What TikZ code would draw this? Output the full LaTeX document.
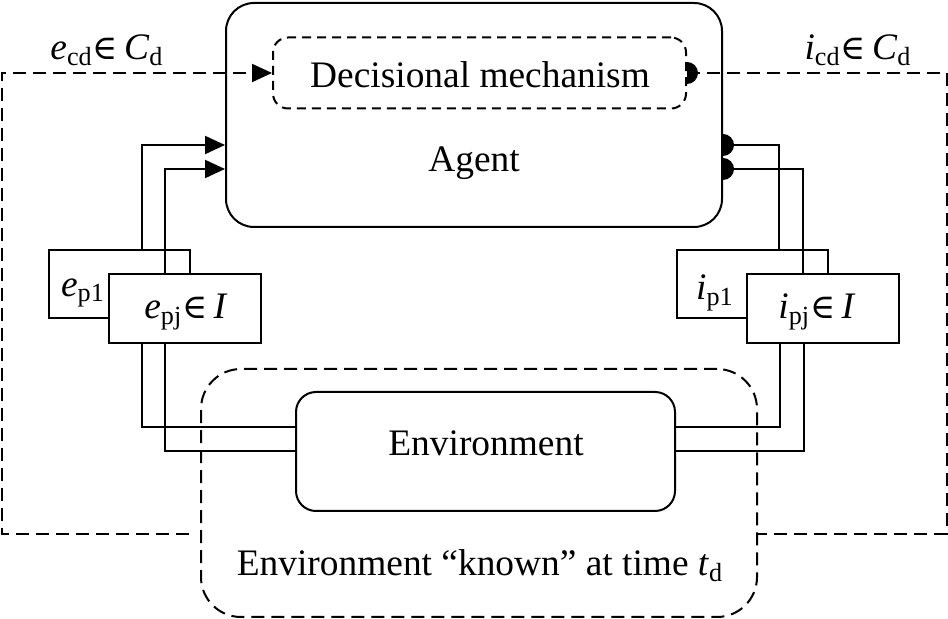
\documentclass[tikz,border=0pt]{standalone}
\usepackage{fontspec}
\setmainfont{Liberation Serif}
\newfontfamily\symfnt{DejaVu Serif}
\usetikzlibrary{arrows.meta,calc}
\newcommand\sbs[1]{\textsubscript{#1}}
\newcommand\elemof{{\symfnt\fontsize{17}{20}\selectfont ∈}}
\begin{document}
\begin{tikzpicture}[x=0.5pt,y=-0.5pt,line width=1pt,
  box/.style={draw,line width=1pt,inner sep=0pt,fill=white},
  txt/.style={inner sep=0pt,font=\fontsize{18.7}{22}\selectfont},
  longdash/.style={dash pattern=on 6.5pt off 3.5pt},
  tri/.style={-{Triangle[length=10pt,width=9pt]}},
  halfdisk/.style={fill=black}]
\useasboundingbox (0,0) rectangle (948,619);
% big boxes
\node[draw,longdash,inner sep=0pt,rounded corners=20pt,minimum width=278pt,minimum height=124pt] (known) at (479,493) {};
\node[box,rounded corners=10pt,minimum width=189.5pt,minimum height=59.5pt] (env) at (485.5,451.5) {};
\node[box,rounded corners=14pt,minimum width=248pt,minimum height=112pt] (agent) at (474,115) {};
\node[box,dash pattern=on 4.5pt off 3pt,rounded corners=7.5pt,minimum width=206.5pt,minimum height=35.5pt] (dm) at (479.5,73) {};
\node[txt] (dmtext) at (480,75) {Decisional mechanism};
\node[txt] (agenttext) at (474,163) {Agent};
\node[txt] (envtext) at (486,443) {Environment};
\node[txt] (knowntext) at (480,566) {Environment “known” at time \textit{t}\sbs{d}};
% input/output boxes
\node[box,minimum width=70.5pt,minimum height=34pt] (ep1) at (119.5,284) {};
\node[box,minimum width=75.5pt,minimum height=34pt] (ip1) at (752.5,284) {};
\node[box,minimum width=76pt,minimum height=34.5pt] (epj) at (185,308.5) {};
\node[box,minimum width=76pt,minimum height=34.5pt] (ipj) at (823,308.5) {};
% connectors left
\draw[tri] ([xshift=47pt]ep1.north west) |- ([yshift=-15pt]agent.west);
\draw[tri] ([xshift=28.5pt]epj.north west) |- ([yshift=-27pt]agent.west);
% connectors right
\draw ([yshift=-15pt]agent.east) -| ([xshift=51.5pt]ip1.north west);
\draw ([yshift=-27pt]agent.east) -| ([xshift=28.5pt]ipj.north west);
\fill[halfdisk] ([yshift=-15pt]agent.east) ++(0,5.5pt) arc[start angle=90,end angle=-90,radius=5.5pt] -- cycle;
\fill[halfdisk] ([yshift=-27pt]agent.east) ++(0,5.5pt) arc[start angle=90,end angle=-90,radius=5.5pt] -- cycle;
% lower connectors
\draw ([xshift=17pt]epj.south west) |- ([yshift=12pt]env.west);
\draw ([xshift=28.5pt]epj.south west) |- (env.west);
\draw ([xshift=17pt]ipj.south west) |- ([yshift=12pt]env.east);
\draw ([xshift=29pt]ipj.south west) |- (env.east);
% dashed feedback loops
\coordinate (lc) at (1.5,534);
\coordinate (rc) at (946.5,534);
\draw[longdash,tri] ([xshift=-5.5pt,yshift=-20.5pt]known.west) -- (lc) |- (dm.west);
\draw[longdash] (dm.east) -| (rc) -- ([yshift=-20.5pt]known.east);
\fill[halfdisk] (dm.east) ++(0,5.5pt) arc[start angle=90,end angle=-90,radius=5.5pt] -- cycle;
% labels
\node[txt] (ecd) at (107,50) {\textit{e}\sbs{cd}\elemof\,\textit{C}\sbs{d}};
\node[txt] (icd) at (858,50) {\textit{i}\sbs{cd}\elemof\,\textit{C}\sbs{d}};
\node[txt] (ep1t) at (83,293) {\textit{e}\sbs{p1}};
\node[txt] (epjt) at (186,312) {\textit{e}\sbs{pj}\elemof\,\textit{I}};
\node[txt] (ip1t) at (715,293) {\textit{i}\sbs{p1}};
\node[txt] (ipjt) at (817,312) {\textit{i}\sbs{pj}\elemof\,\textit{I}};
\end{tikzpicture}
\end{document}
